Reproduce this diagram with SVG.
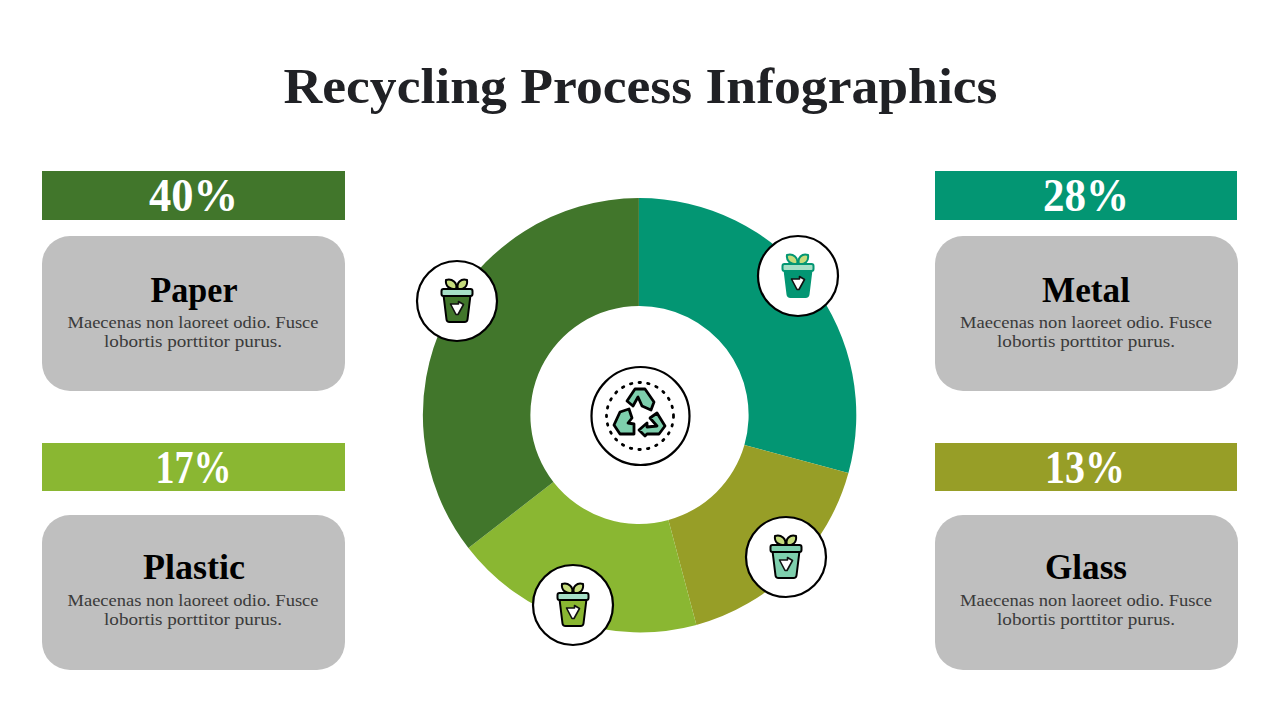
<svg xmlns="http://www.w3.org/2000/svg" width="1280" height="720" viewBox="0 0 1280 720">
<style>
text{font-family:"Liberation Serif","DejaVu Serif",serif;text-anchor:middle}
.title{font-size:50px;font-weight:700;fill:#202125}
.pct{font-size:46px;font-weight:700;fill:#fff}
.name{font-size:35px;font-weight:700;fill:#000}
.desc{font-size:16.5px;fill:#3a3a3a}
.card{fill:#bfbfbf}
.disc{fill:#fff;stroke:#000;stroke-width:2.2}
.o{stroke-width:2;stroke-linejoin:round;stroke-linecap:round}
.a{stroke:#000;stroke-width:2.800;stroke-linejoin:round;fill:#7ecfad}
.leaf{fill:#c5dc7c}
.tri{fill:#fff;stroke:#111;stroke-width:1.600;stroke-linejoin:round}
</style>
<defs>
<g id="plant">
<path class="o leaf" d="M-11-21C-5-23 1-18-1-12C-7-11-12-15-11-21Z"/>
<path class="o leaf" d="M10-21C4-23-1-18 1-12C7-11 11-15 10-21Z"/>
</g>
<path id="trash" class="tri" d="M-6.500 3H1.500V0.500L6.500 3.500L1 13.500H-1Z"/>
<path id="bin-body" class="o" d="M-13.500-6H13.500L10.500 18.500Q10.200 21 7.500 21H-7.500Q-10.200 21-10.500 18.500Z"/>
<rect id="bin-lid" class="o" x="-15.500" y="-12" width="31" height="7" rx="2"/>
</defs>
<text class="title" x="640.500" y="103" textLength="714" lengthAdjust="spacingAndGlyphs">Recycling Process Infographics</text>
<g id="donut" transform="translate(-0.600 0)">
<path id="seg-metal" fill="#039673" d="M639.500 198A217 217 0 0 1 849 473L745 445A109 109 0 0 0 639.500 306Z"/>
<path id="seg-glass" fill="#979e27" d="M849 473A217 217 0 0 1 697 625L669 520A109 109 0 0 0 745 445Z"/>
<path id="seg-plastic" fill="#8ab732" d="M697 625A217 217 0 0 1 469 548L554 482A109 109 0 0 0 669 520Z"/>
<path id="seg-paper" fill="#41762b" d="M469 548A217 217 0 0 1 639.500 198V306A109 109 0 0 0 554 482Z"/>
</g>
<g id="center-icon">
<circle class="disc" cx="640.500" cy="416" r="49"/>
<circle cx="640" cy="416" r="33.500" fill="none" stroke="#000" stroke-width="2.800" stroke-linecap="round" stroke-dasharray="1.500 7.200"/>
<path class="a" d="M627 401L635 389H645L654 402L651 410L642 406L638 397L633 406Z"/>
<path class="a" d="M620 412L629 409L632 418L628 423L634 424V434H620L614 425Z"/>
<path class="a" d="M639 430L647 423V427L657 426L650 418L657 413L665 426L659 434H647L645 436Z"/>
</g>
<g id="icon-paper" transform="translate(457 301)" stroke="#000">
<circle class="disc" r="40"/><use href="#plant"/><use href="#bin-body" fill="#41762b"/><use href="#bin-lid" fill="#a6dfc6"/><use href="#trash"/>
</g>
<g id="icon-metal" transform="translate(798 276)" stroke="#039673">
<circle class="disc" r="40"/><use href="#plant"/><use href="#bin-body" fill="#039673"/><use href="#bin-lid" fill="#a6dfc6"/><use href="#trash"/>
</g>
<g id="icon-glass" transform="translate(786 557)" stroke="#000">
<circle class="disc" r="40"/><use href="#plant"/><use href="#bin-body" fill="#7ecfad"/><use href="#bin-lid" fill="#7ecfad"/><use href="#trash"/>
</g>
<g id="icon-plastic" transform="translate(573 605)" stroke="#000">
<circle class="disc" r="40"/><use href="#plant"/><use href="#bin-body" fill="#8ab732"/><use href="#bin-lid" fill="#a6dfc6"/><use href="#trash"/>
</g>
<g id="node-paper">
<rect x="42" y="171" width="303" height="49" fill="#41762b"/>
<text class="pct" x="193.500" y="211" textLength="89" lengthAdjust="spacingAndGlyphs">40%</text>
<rect class="card" x="42" y="236" width="303" height="155" rx="28"/>
<text class="name" x="194" y="302" textLength="87" lengthAdjust="spacingAndGlyphs">Paper</text>
<text class="desc" x="193" y="328" textLength="251" lengthAdjust="spacingAndGlyphs">Maecenas non laoreet odio. Fusce</text>
<text class="desc" x="193" y="347" textLength="178" lengthAdjust="spacingAndGlyphs">lobortis porttitor purus.</text>
</g>
<g id="node-plastic">
<rect x="42" y="443" width="303" height="48" fill="#8ab732"/>
<text class="pct" x="193.500" y="483" textLength="76" lengthAdjust="spacingAndGlyphs">17%</text>
<rect class="card" x="42" y="515" width="303" height="155" rx="28"/>
<text class="name" x="194" y="579" textLength="102" lengthAdjust="spacingAndGlyphs">Plastic</text>
<text class="desc" x="193" y="606" textLength="251" lengthAdjust="spacingAndGlyphs">Maecenas non laoreet odio. Fusce</text>
<text class="desc" x="193" y="625" textLength="178" lengthAdjust="spacingAndGlyphs">lobortis porttitor purus.</text>
</g>
<g id="node-metal">
<rect x="935" y="171" width="302" height="49" fill="#039673"/>
<text class="pct" x="1086" y="211" textLength="86" lengthAdjust="spacingAndGlyphs">28%</text>
<rect class="card" x="935" y="236" width="303" height="155" rx="28"/>
<text class="name" x="1086" y="302" textLength="88" lengthAdjust="spacingAndGlyphs">Metal</text>
<text class="desc" x="1086" y="328" textLength="252" lengthAdjust="spacingAndGlyphs">Maecenas non laoreet odio. Fusce</text>
<text class="desc" x="1086" y="347" textLength="178" lengthAdjust="spacingAndGlyphs">lobortis porttitor purus.</text>
</g>
<g id="node-glass">
<rect x="935" y="443" width="302" height="48" fill="#979e27"/>
<text class="pct" x="1085" y="483" textLength="80" lengthAdjust="spacingAndGlyphs">13%</text>
<rect class="card" x="935" y="515" width="303" height="155" rx="28"/>
<text class="name" x="1086" y="579" textLength="82" lengthAdjust="spacingAndGlyphs">Glass</text>
<text class="desc" x="1086" y="606" textLength="252" lengthAdjust="spacingAndGlyphs">Maecenas non laoreet odio. Fusce</text>
<text class="desc" x="1086" y="625" textLength="178" lengthAdjust="spacingAndGlyphs">lobortis porttitor purus.</text>
</g>
</svg>
